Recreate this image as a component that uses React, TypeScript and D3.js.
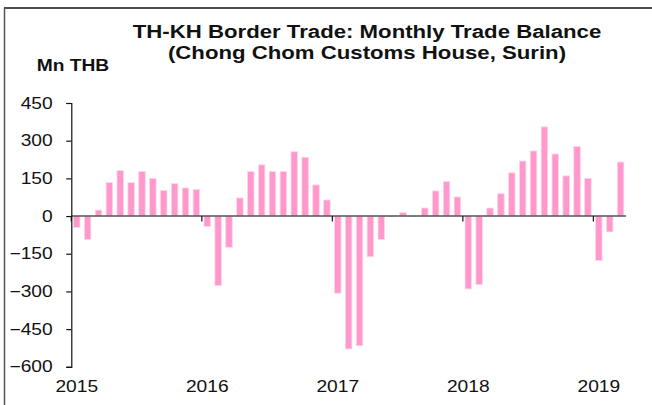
import React, { useEffect, useRef } from "react";
import * as d3 from "d3";

const years = ["2015", "2016", "2017", "2018", "2019"];
const months = ["Jan", "Feb", "Mar", "Apr", "May", "Jun", "Jul", "Aug", "Sep", "Oct", "Nov", "Dec"];
const values2015 = [-45, -93, 24, 133, 181, 133, 177, 150, 102, 129, 112, 106];
const values2016 = [-41, -277, -124, 72, 177, 204, 177, 177, 256, 234, 124, 64];
const values2017 = [-307, -529, -516, -162, -93, -2, 14, -2, 32, 100, 137, 76];
const values2018 = [-290, -273, 32, 89, 172, 219, 259, 355, 247, 160, 277, 150];
const values2019 = [-177, -63, 215];
const yTicks = [450, 300, 150, 0, -150, -300, -450, -600];
const titleLines = ["TH-KH Border Trade: Monthly Trade Balance", "(Chong Chom Customs House, Surin)"];
const unitLabel = "Mn THB";

const series = [values2015, values2016, values2017, values2018, values2019];
const data = series.flatMap((vals, yi) =>
  vals.map((v, mi) => ({ key: `${years[yi]}-${months[mi]}`, year: years[yi], month: mi, value: v }))
);

export default function App() {
  const ref = useRef<SVGSVGElement>(null);
  useEffect(() => {
    const svg = d3.select(ref.current);
    svg.selectAll("*").remove();
    const W = 652, H = 405;
    const left = 71.3, right = 626;
    const SX = 1.2;
    const x = d3.scaleBand().domain(data.map(d => d.key)).range([left, right]).paddingInner(0.4).paddingOuter(0.2);
    const xOuter = d3.scaleBand().domain(data.map(d => d.key)).range([left, right]).padding(0);
    const y = d3.scaleLinear().domain([-600, 450]).range([366.8, 103]);
    const font = "'Liberation Sans', Arial, sans-serif";

    const label = (tx: number, ty: number, text: string, size: number, anchor: string, bold = false, dy = "0") =>
      svg.append("text")
        .attr("transform", `translate(${tx},${ty}) scale(${SX},1)`)
        .attr("text-anchor", anchor)
        .attr("dy", dy)
        .attr("font-family", font)
        .attr("font-size", size)
        .attr("font-weight", bold ? "bold" : "normal")
        .attr("fill", "#111")
        .text(text);

    svg.append("rect").attr("width", W).attr("height", H).attr("fill", "#fff");

    // frame
    svg.append("line").attr("x1", 4).attr("x2", W).attr("y1", 8).attr("y2", 8).attr("stroke", "#111").attr("stroke-width", 1.5);
    svg.append("line").attr("x1", 4.5).attr("x2", 4.5).attr("y1", 7.5).attr("y2", H).attr("stroke", "#555").attr("stroke-width", 1.5);

    // title
    label(367, 37.7, titleLines[0], 18.5, "middle", true);
    label(367, 58.5, titleLines[1], 18.5, "middle", true);
    label(36.7, 70.7, unitLabel, 16, "start", true);

    // bars
    svg.append("g").selectAll("rect").data(data).join("rect")
      .attr("x", d => x(d.key)!)
      .attr("width", x.bandwidth())
      .attr("y", d => y(Math.max(0, d.value)))
      .attr("height", d => Math.abs(y(d.value) - y(0)))
      .attr("fill", "#ff99cc")
      .attr("stroke", "#ffd6ea")
      .attr("stroke-width", 0.8);

    // zero line
    svg.append("line").attr("x1", left).attr("x2", right).attr("y1", y(0)).attr("y2", y(0)).attr("stroke", "#555").attr("stroke-width", 1.5);

    // year ticks and labels
    years.forEach(yr => {
      const xs = xOuter(`${yr}-Jan`)!;
      svg.append("line").attr("x1", xs).attr("x2", xs).attr("y1", y(0)).attr("y2", y(0) + 5.5).attr("stroke", "#111").attr("stroke-width", 1.2);
      label(xs + xOuter.bandwidth() / 2, 392, yr, 16, "middle");
    });

    // y axis
    const yAxis = d3.axisLeft(y).tickValues(yTicks).tickSize(5).tickFormat(() => "");
    const g = svg.append("g").attr("transform", `translate(${left},0)`).call(yAxis);
    g.select(".domain").attr("stroke", "#111").attr("stroke-width", 1.2);
    g.selectAll(".tick line").attr("stroke", "#111").attr("stroke-width", 1.2);
    yTicks.forEach(t => label(52.7, y(t), d3.format("d")(t), 16, "end", false, "0.35em"));
  }, []);
  return (
    <svg ref={ref} width={652} height={405} style={{ position: "absolute", left: 0, top: 0 }} />
  );
}
